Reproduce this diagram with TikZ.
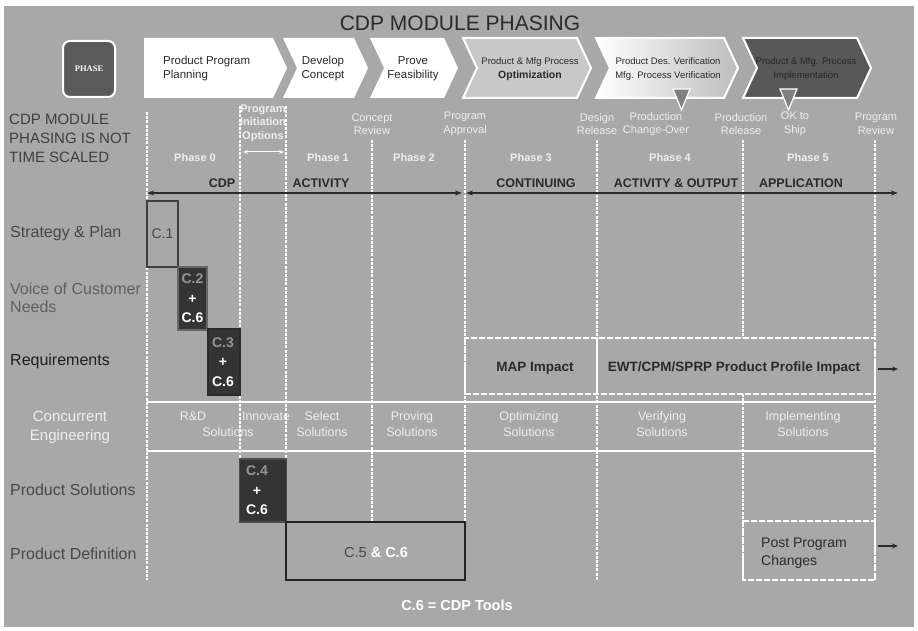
\documentclass[tikz,border=0pt]{standalone}
\usepackage{fontspec}
\setmainfont{Liberation Sans}
\newfontfamily\seriffont{Liberation Serif}
\usetikzlibrary{arrows.meta}
\definecolor{bg}{RGB}{168,168,168}
\definecolor{darktxt}{RGB}{42,42,42}
\definecolor{midtxt}{RGB}{72,72,72}
\definecolor{softtxt}{RGB}{96,96,96}
\definecolor{lighttxt}{RGB}{238,238,238}
\definecolor{chevfour}{RGB}{200,200,200}
\definecolor{chevsix}{RGB}{88,88,88}
\definecolor{phasefill}{RGB}{90,90,90}
\definecolor{boxdark}{RGB}{52,52,52}
\definecolor{trifill}{RGB}{128,128,128}
\definecolor{cgray}{RGB}{150,150,150}
\begin{document}
\begin{tikzpicture}[x=1pt,y=-1pt,
  vline/.style={white, line width=1.3pt, dash pattern=on 3pt off 1.2pt},
  dline/.style={white, line width=1.5pt, dash pattern=on 6pt off 2pt},
  sline/.style={white, line width=1.3pt},
  darrow/.style={draw=darktxt, line width=1.6pt, {Stealth[length=7pt,width=5pt]}-{Stealth[length=7pt,width=5pt]}},
  sarrow/.style={draw=darktxt, line width=1.2pt, -{Stealth[length=6pt,width=5pt]}},
  rowlbl/.style={anchor=west, inner sep=0pt, align=left, font=\fontsize{16}{18}\selectfont},
  chevtxt/.style={inner sep=0pt, align=center, text=darktxt, font=\fontsize{11.5}{14}\selectfont},
  mslbl/.style={inner sep=0pt, align=center, text=lighttxt, font=\fontsize{11}{13.5}\selectfont},
  phlbl/.style={inner sep=0pt, text=lighttxt, font=\bfseries\fontsize{11}{13}\selectfont},
  arlbl/.style={inner sep=0pt, text=darktxt, font=\bfseries\fontsize{12.5}{14}\selectfont},
  cetxt/.style={inner sep=0pt, align=center, text=lighttxt, font=\fontsize{12.5}{16}\selectfont},
  cbox/.style={fill=boxdark, line width=1.5pt, inner sep=0pt},
  ctxt/.style={inner sep=0pt, align=center, font=\fontsize{14}{19.5}\selectfont},
  reqtxt/.style={inner sep=0pt, text=darktxt, font=\bfseries\fontsize{13.5}{16}\selectfont}]
\useasboundingbox (0,0) rectangle (918,631);
\fill[white] (0,0) rectangle (918,631);
\fill[bg] (4,6) rectangle (914,627);

% title
\node[inner sep=0pt, text=darktxt, font=\fontsize{21}{24}\selectfont] (title) at (460,23) {CDP MODULE PHASING};

% phase box
\node[draw=white, line width=2pt, fill=phasefill, rounded corners=7pt, minimum width=52pt, minimum height=56pt, inner sep=0pt, text=white, font=\seriffont\bfseries\fontsize{8.5}{10}\selectfont] (phase) at (89,69) {PHASE};

% chevrons
\fill[white] (144,38) -- (273,38) -- (287,68) -- (273,98) -- (144,98) -- cycle;
\fill[white] (283,38) -- (354,38) -- (368,68) -- (354,98) -- (283,98) -- (297,68) -- cycle;
\fill[white] (370,38) -- (444,38) -- (458,68) -- (444,98) -- (370,98) -- (384,68) -- cycle;
\filldraw[fill=chevfour, draw=white, line width=2pt] (463,38) -- (577,38) -- (591,68) -- (577,98) -- (463,98) -- (477,68) -- cycle;
\shade[left color=white, right color=chevfour!85!gray] (596,38) -- (724,38) -- (738,68) -- (724,98) -- (596,98) -- (610,68) -- cycle;
\draw[white, line width=2pt] (596,38) -- (724,38) -- (738,68) -- (724,98) -- (596,98) -- (610,68) -- cycle;
\filldraw[fill=chevsix, draw=white, line width=2pt] (743,38) -- (857,38) -- (871,68) -- (857,98) -- (743,98) -- (757,68) -- cycle;

\node[chevtxt, anchor=west, align=left] (ch1) at (163,69) {Product Program\\Planning};
\node[chevtxt] (ch2) at (323,69) {Develop\\Concept};
\node[chevtxt] (ch3) at (413,69) {Prove\\Feasibility};
\node[chevtxt] (ch4) at (530,69) {{\fontsize{9.5}{13}\selectfont Product \& Mfg Process}\\{\fontsize{10.5}{13}\selectfont\bfseries Optimization}};
\node[chevtxt, font=\fontsize{9.5}{14}\selectfont] (ch5) at (668,69) {Product Des. Verification\\Mfg. Process Verification};
\node[chevtxt, font=\fontsize{9.5}{14}\selectfont, text=black!85] (ch6) at (806,69) {Product \& Mfg. Process\\Implementation};

% markers
\filldraw[fill=trifill, draw=white, line width=1.2pt] (673,89) -- (690,89) -- (681.5,110) -- cycle;
\filldraw[fill=trifill, draw=white, line width=1.2pt] (780,89) -- (797,89) -- (788.5,110) -- cycle;

% vertical grid lines
\draw[vline] (147,112) -- (147,580);
\draw[vline] (240,106) -- (240,459);
\draw[vline] (286,106) -- (286,522);
\draw[vline] (372,140) -- (372,522);
\draw[vline] (465,140) -- (465,522);
\draw[vline] (597,140) -- (597,580);
\draw[vline] (743,140) -- (743,338);
\draw[vline] (743,394) -- (743,580);
\draw[vline] (875,140) -- (875,580);

% concurrent engineering row
\draw[sline] (147,402) -- (875,402);
\draw[sline] (147,451) -- (875,451);

% requirements box
\draw[dline] (465,338) rectangle (875,394);
\draw[sline] (597,338) -- (597,394);

% post program box
\draw[dline] (743,521) rectangle (875,580);

% milestones
\node[mslbl, font=\bfseries\fontsize{11}{13.5}\selectfont] (pio) at (263,123) {Program\\Initiation\\Options};
\coordinate (pioL) at (243,152);
\coordinate (pioR) at (284,152);
\draw[white, line width=1pt, {Stealth[length=5pt,width=4pt]}-{Stealth[length=5pt,width=4pt]}] (pioL) -- (pioR);
\node[mslbl] (ms1) at (372,124) {Concept\\Review};
\node[mslbl] (ms2) at (465,124) {Program\\Approval};
\node[mslbl] (ms3) at (597,124) {Design\\Release};
\node[mslbl] (ms4) at (656,124) {Production\\Change-Over};
\node[mslbl] (ms5) at (741,124) {Production\\Release};
\node[mslbl] (ms6) at (795,124) {OK to\\Ship};
\node[mslbl] (ms7) at (876,124) {Program\\Review};

% phases
\node[phlbl] (p0) at (195,158) {Phase 0};
\node[phlbl] (p1) at (328,158) {Phase 1};
\node[phlbl] (p2) at (414,158) {Phase 2};
\node[phlbl] (p3) at (531,158) {Phase 3};
\node[phlbl] (p4) at (670,158) {Phase 4};
\node[phlbl] (p5) at (808,158) {Phase 5};

% activity arrows
\node[arlbl] (a1) at (222,183) {CDP};
\node[arlbl] (a2) at (321,183) {ACTIVITY};
\node[arlbl] (a3) at (536,183) {CONTINUING};
\node[arlbl] (a4) at (676,183) {ACTIVITY \& OUTPUT};
\node[arlbl] (a5) at (801,183) {APPLICATION};
\coordinate (arA) at (147,193);
\coordinate (arB) at (462,193);
\coordinate (arC) at (466,193);
\coordinate (arD) at (898,193);
\draw[darrow] (arA) -- (arB);
\draw[darrow] (arC) -- (arD);

% left labels
\node[rowlbl, text=darktxt!90, font=\fontsize{15}{19}\selectfont] (note) at (9,138) {CDP MODULE\\PHASING IS NOT\\TIME SCALED};
\node[rowlbl, text=midtxt] (r1) at (10,233) {Strategy \& Plan};
\node[rowlbl, text=softtxt, font=\fontsize{16}{18}\selectfont] (r2) at (10,298) {Voice of Customer\\Needs};
\node[rowlbl, text=black!88] (r3) at (10,361) {Requirements};
\node[inner sep=0pt, align=center, text=lighttxt, font=\fontsize{15}{19}\selectfont] (r4) at (70,427) {Concurrent\\Engineering};
\node[rowlbl, text=midtxt] (r5) at (10,490) {Product Solutions};
\node[rowlbl, text=midtxt] (r6) at (10,554) {Product Definition};

% C boxes
\node[draw=darktxt!90, line width=1.3pt, minimum width=31pt, minimum height=66pt, inner sep=0pt, text=midtxt, font=\fontsize{14}{16}\selectfont] (c1) at (162.5,234) {C.1};
\node[cbox, draw=gray!80!black, minimum width=29pt, minimum height=63pt] (c2) at (192.5,298.5) {};
\node[ctxt] (c2t) at (192.5,298.5) {\textcolor{cgray}{\bfseries C.2}\\\textcolor{white}{\bfseries +}\\\textcolor{white}{\bfseries C.6}};
\node[cbox, draw=darktxt, minimum width=32pt, minimum height=66pt] (c3) at (224,362) {};
\node[ctxt] (c3t) at (223,362) {\textcolor{cgray}{\bfseries C.3}\\\textcolor{white}{\bfseries +}\\\textcolor{white}{\bfseries C.6}};
\node[cbox, draw=black!70, minimum width=47pt, minimum height=63pt] (c4) at (263,490.5) {};
\node[ctxt] (c4t) at (257,490.5) {\textcolor{cgray}{\bfseries C.4}\\\textcolor{white}{\bfseries +}\\\textcolor{white}{\bfseries C.6}};
\node[draw=darktxt!80!black, line width=2.2pt, minimum width=179pt, minimum height=58pt, inner sep=0pt] (c5) at (375.5,551) {};
\node[inner sep=0pt, font=\fontsize{14.5}{17}\selectfont] (c5t) at (376,553) {\textcolor{midtxt}{C.5} \textcolor{white}{\bfseries\& C.6}};

% concurrent engineering texts
\node[cetxt] (ce1a) at (193,416) {R\&D};
\node[cetxt] (ce1b) at (266,416) {Innovate};
\node[cetxt] (ce1c) at (228,432) {Solutions};
\node[cetxt] (ce2) at (322,424) {Select\\Solutions};
\node[cetxt] (ce3) at (412,424) {Proving\\Solutions};
\node[cetxt] (ce4) at (529,424) {Optimizing\\Solutions};
\node[cetxt] (ce5) at (662,424) {Verifying\\Solutions};
\node[cetxt] (ce6) at (803,424) {Implementing\\Solutions};

% requirements texts
\node[reqtxt] (map) at (535,368) {MAP Impact};
\node[reqtxt] (ewt) at (734,368) {EWT/CPM/SPRP Product Profile Impact};
\coordinate (reqA) at (878,369);
\coordinate (reqB) at (898,369);
\draw[sarrow] (reqA) -- (reqB);

% post program
\node[rowlbl, text=darktxt, font=\fontsize{14}{17.5}\selectfont] (ppc) at (761,553) {Post Program\\Changes};
\coordinate (ppA) at (878,546);
\coordinate (ppB) at (898,546);
\draw[sarrow] (ppA) -- (ppB);

% legend
\node[inner sep=0pt, text=white, font=\bfseries\fontsize{14.5}{17}\selectfont] (legend) at (457,605) {C.6 = CDP Tools};
\end{tikzpicture}
\end{document}
